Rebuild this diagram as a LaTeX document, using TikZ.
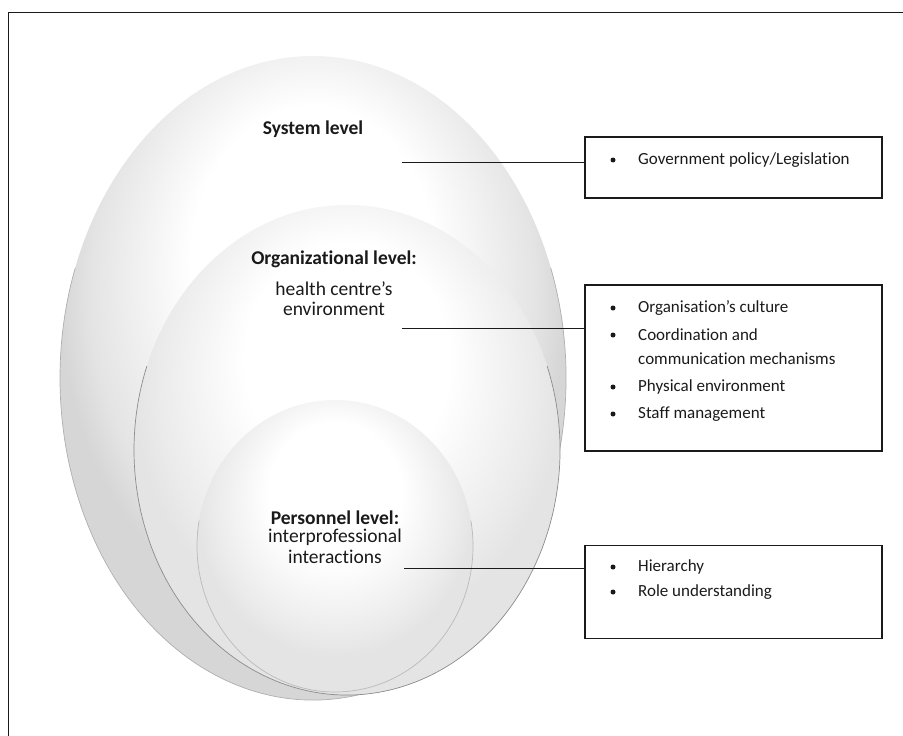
\documentclass[tikz,border=0pt]{standalone}
\usepackage{fontspec}
\setmainfont[Ligatures={NoCommon}]{Carlito}
\usetikzlibrary{positioning}
\definecolor{lvlInk}{HTML}{1A1A1A}
\definecolor{lvlEdge}{HTML}{8C8C8C}
\definecolor{lvlShade}{HTML}{E4E4E4}
\definecolor{lvlRim}{HTML}{D6D6D6}
\definecolor{lvlSoft}{HTML}{EBEBEB}
\pgfdeclareradialshading{lvlglow}{\pgfpoint{0bp}{12bp}}{color(0bp)=(white); color(12bp)=(white); color(22bp)=(lvlShade); color(25bp)=(lvlRim); color(50bp)=(lvlRim)}
\pgfdeclareradialshading{lvlsoft}{\pgfpoint{0bp}{12bp}}{color(0bp)=(white); color(12bp)=(white); color(22bp)=(lvlSoft); color(25bp)=(lvlShade); color(50bp)=(lvlShade)}
\tikzset{
  lvl shell/.style={shading=lvlglow},
  lvl rim/.style={draw=lvlEdge, line width=0.7pt},
  lvl link/.style={draw=lvlInk, line width=1pt},
  lvl box/.style={draw=lvlInk, line width=1.1pt},
  lvl title/.style={font=\fontsize{19.5}{22}\selectfont\bfseries, text=lvlInk, align=center},
  lvl text/.style={font=\fontsize{19.5}{20}\selectfont, text=lvlInk, align=center},
  lvl item/.style={font=\fontsize{17}{24}\selectfont, text=lvlInk, anchor=west, inner sep=0pt},
  lvl dot/.style={circle, fill=lvlInk, minimum size=5pt, inner sep=0pt},
}

\begin{document}
\begin{tikzpicture}[x=1pt,y=-1pt]
\useasboundingbox(0,0)rectangle(903,736);
\draw[lvlInk,line width=0.8pt](8,736)--(8,12)--(903,12);
% nested levels
\path[lvl shell](313,378)ellipse[x radius=253,y radius=322];
\draw[lvl rim,draw=lvlEdge!70](313,378)++(-20:253 and 322)arc[start angle=-20,end angle=200,x radius=253,y radius=322];
\path[lvl shell,shading=lvlsoft](347,450)ellipse[x radius=213,y radius=245];
\draw[lvl rim](347,450)++(-20:213 and 245)arc[start angle=-20,end angle=200,x radius=213,y radius=245];
\path[lvl shell,shading=lvlsoft](335,546)ellipse[x radius=138,y radius=146];
\draw[lvl rim,draw=lvlEdge!60](335,546)++(-10:138 and 146)arc[start angle=-10,end angle=190,x radius=138,y radius=146];
% level labels
\node[lvl title](sys)at(313,129){System level};
\node[lvl title](org)at(334,259){Organizational level:};
\node[lvl text](orgsub)at(334,299){health centre’s\\environment};
\node[lvl title](per)at(335,518){Personnel level:};
\node[lvl text,font=\fontsize{19.5}{21}\selectfont,below=-3pt of per](persub){interprofessional\\interactions};
% factor boxes
\node[lvl box,minimum width=297pt,minimum height=61pt,inner sep=0pt](bsys)at(733.5,167.5){};
\node[lvl box,minimum width=297pt,minimum height=166pt,inner sep=0pt](borg)at(733.5,368){};
\node[lvl box,minimum width=297pt,minimum height=93pt,inner sep=0pt](bper)at(733.5,592){};
\coordinate(csys)at(402,162);\coordinate(corg)at(402,328);\coordinate(cper)at(404,568);
\draw[lvl link](csys)--(csys-|bsys.west);
\draw[lvl link](corg)--(corg-|borg.west);
\draw[lvl link](cper)--(cper-|bper.west);
% bullet items
\node[lvl dot](d1)at(613,160){};\node[lvl item](t1)at(638,160){Government policy/Legislation};
\node[lvl dot](d2)at(613,308){};\node[lvl item](t2)at(638,308){Organisation’s culture};
\node[lvl dot](d3)at(613,335){};\node[lvl item,align=left](t3)at(638,347){Coordination and\\communication mechanisms};
\node[lvl dot](d4)at(613,387){};\node[lvl item](t4)at(638,387){Physical environment};
\node[lvl dot](d5)at(613,414){};\node[lvl item](t5)at(638,414){Staff management};
\node[lvl dot](d6)at(613,567){};\node[lvl item](t6)at(638,567){Hierarchy};
\node[lvl dot](d7)at(613,592){};\node[lvl item](t7)at(638,592){Role understanding};
\end{tikzpicture}
\end{document}
